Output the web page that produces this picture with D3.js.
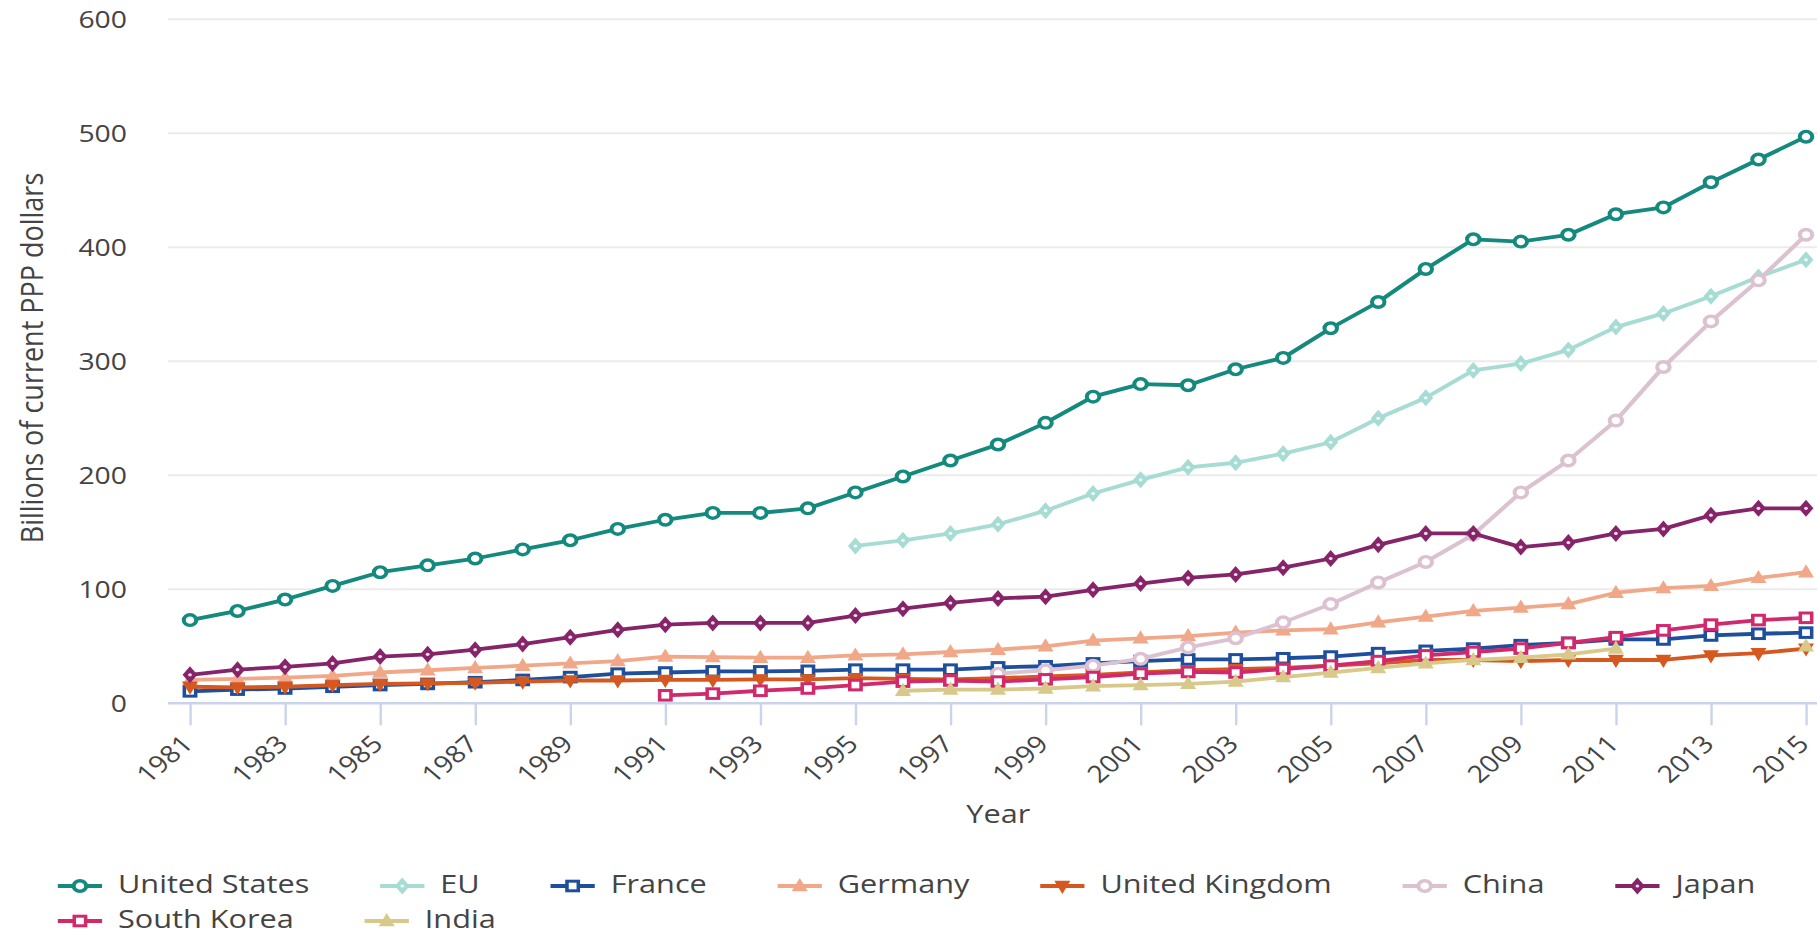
<!DOCTYPE html>
<html><head><meta charset="utf-8">
<script src="https://cdn.jsdelivr.net/npm/d3@7"></script>
<style>
body{margin:0;background:#fff;overflow:hidden}
svg{display:block}
text{font-family:"Open Sans",sans-serif;fill:#444}
</style></head>
<body><svg id="chart"></svg>
<script>
// ---------- DATA ----------
const years = [1981,1982,1983,1984,1985,1986,1987,1988,1989,1990,1991,1992,1993,1994,1995,1996,1997,1998,1999,2000,2001,2002,2003,2004,2005,2006,2007,2008,2009,2010,2011,2012,2013,2014,2015];
const yTicks = [0,100,200,300,400,500,600];
const xTickYears = [1981,1983,1985,1987,1989,1991,1993,1995,1997,1999,2001,2003,2005,2007,2009,2011,2013,2015];
const N = null;
const unitedStates = [73,81,91,103,115,121,127,135,143,153,161,167,167,171,185,199,213,227,246,269,280,279,293,303,329,352,381,407,405,411,429,435,457,477,497];
const eu =           [N,N,N,N,N,N,N,N,N,N,N,N,N,N,138,143,149,157,169,184,196,207,211,219,229,250,268,292,298,310,330,342,357,374,389];
const france =       [10.5,12,13,14.5,16,17,18.5,20.5,23,26,27,28,28,28.5,29.5,29.5,29.5,31.5,32.5,35,37,38.5,38.5,39.5,41,44,46,48,51,53,56,56,59.5,61,62];
const germany =      [20.5,21.5,22.5,24,27,29,31,33,35,37,41,40.5,40,40,42,43,45,47,50,55,57,59,62,64,65,71,76,81,84,87,97,101,103,110,115];
const unitedKingdom =[14.5,14,14.5,16,17,17.5,18,19,20,20,20.5,20.5,21,21,22,21.5,21,22,23.5,25,27,29,30,31,33,35,38,38,37,38,38,38,42,44,48];
const china =        [N,N,N,N,N,N,N,N,N,N,N,N,N,N,N,N,N,26,29,33,39,49,57,71,87,106,124,148,185,213,248,295,335,371,411];
const japan =        [25,29.5,32,35,41,43,47,52,58,64.5,69,70.5,70.5,70.5,77,83,88,92,93.5,99.5,105,110,113,119,127,139,149,149,137,141,149,153,165,171,171];
const southKorea =   [N,N,N,N,N,N,N,N,N,N,7,8.5,11,13,16,19,20,19,21,23,26,27.5,27,30,33,37,42,45,48,53,58,64,69,73,75];
const india =        [N,N,N,N,N,N,N,N,N,N,N,N,N,N,N,11,12,12,13,15,16,17,19,23,27,31,35,38,40,43,48,N,N,N,50];

const seriesNames = ["United States","EU","France","Germany","United Kingdom","China","Japan","South Korea","India"];
const seriesValues = [unitedStates,eu,france,germany,unitedKingdom,china,japan,southKorea,india];
const seriesColors = ["#138a7d","#a6dcd3","#1d4f9c","#f1a888","#d4581f","#dcc1d1","#86246a","#d02a6d","#d8c98a"];
const seriesMarkers = ["circleOpen","diamondDot","squareOpen","triUp","triDown","circleOpen","diamondDot","squareOpen","triUp"];

// ---------- LAYOUT ----------
const W = 1817, H = 936, SX = 1.18;           // picture is stretched horizontally
const LW = W / SX;
const svg = d3.select("#chart").attr("width", W).attr("height", H)
  .attr("viewBox", `0 0 ${LW} ${H}`).attr("preserveAspectRatio", "none");

const plotLeft = 168 / SX, plotRight = LW;
const x = d3.scaleLinear().domain([1981, 2015]).range([190 / SX, 1806 / SX]);
const y = d3.scaleLinear().domain([0, 600]).range([703.3, 19.3]);

// gridlines
svg.append("g").selectAll("line").data(yTicks.filter(t => t > 0)).join("line")
  .attr("x1", plotLeft).attr("x2", plotRight)
  .attr("y1", d => y(d)).attr("y2", d => y(d))
  .attr("stroke", "#ebebeb").attr("stroke-width", 2);

// y axis labels via d3 axis
const yAxis = d3.axisLeft(y).tickValues(yTicks).tickSize(0).tickPadding(0);
const yg = svg.append("g").attr("transform", `translate(${127 / SX},0)`).call(yAxis);
yg.select(".domain").remove();
yg.selectAll("text").attr("font-size", 24).attr("fill", "#444")
  .style("font-family", '"Open Sans",sans-serif').attr("dy", "0.36em").attr("x", 0);

// x axis ticks + labels
const xAxis = d3.axisBottom(x).tickValues(xTickYears).tickSize(22).tickFormat(d3.format("d"));
const xg = svg.append("g").attr("transform", `translate(0,${y(0)})`).call(xAxis);
xg.select(".domain").remove();
xg.selectAll(".tick line").attr("stroke", "#c9d3ea").attr("stroke-width", 2);
xg.selectAll(".tick text")
  .attr("font-size", 24).attr("fill", "#444").style("font-family", '"Open Sans",sans-serif')
  .attr("text-anchor", "end").attr("y", 0).attr("dy", "0.72em")
  .attr("transform", "translate(-9,30) rotate(-45)");

// zero line
svg.append("line").attr("x1", plotLeft).attr("x2", plotRight)
  .attr("y1", y(0)).attr("y2", y(0)).attr("stroke", "#c9d3ea").attr("stroke-width", 2.5);

// axis titles
svg.append("text").attr("x", 846).attr("y", 823).attr("text-anchor", "middle")
  .attr("font-size", 26).text("Year");
svg.append("text").attr("transform", `translate(${26},${358}) rotate(-90)`)
  .attr("text-anchor", "middle").attr("dominant-baseline", "central")
  .attr("font-size", 27).text("Billions of current PPP dollars");

// ---------- MARKERS ----------
function drawMarker(sel, type, color) {
  if (type === "circleOpen") {
    sel.append("circle").attr("r", 5.3).attr("fill", "#fff").attr("stroke", color).attr("stroke-width", 3.4);
  } else if (type === "squareOpen") {
    sel.append("rect").attr("x", -4.8).attr("y", -4.8).attr("width", 9.6).attr("height", 9.6)
      .attr("fill", "#fff").attr("stroke", color).attr("stroke-width", 3);
  } else if (type === "diamondDot") {
    sel.append("path").attr("d", "M0,-8.5L6.3,0L0,8.5L-6.3,0Z").attr("fill", color);
    sel.append("circle").attr("r", 1.6).attr("fill", "#fff").attr("opacity", 0.85);
  } else if (type === "triUp") {
    sel.append("path").attr("d", "M0,-8L6.8,5.2L-6.8,5.2Z").attr("fill", color);
  } else if (type === "triDown") {
    sel.append("path").attr("d", "M0,8L6.8,-5.2L-6.8,-5.2Z").attr("fill", color);
  }
}

// ---------- LINES ----------
const line = d3.line().defined(d => d.v != null).x(d => x(d.year)).y(d => y(d.v));
seriesNames.forEach((name, i) => {
  const pts = years.map((yr, j) => ({year: yr, v: seriesValues[i][j]}));
  const sg = svg.append("g").attr("class", "series");
  sg.append("path").datum(pts).attr("d", line).attr("fill", "none")
    .attr("stroke", seriesColors[i]).attr("stroke-width", 3.8).attr("stroke-linejoin", "round");
  sg.selectAll("g.m").data(pts.filter(d => d.v != null)).join("g").attr("class", "m")
    .attr("transform", d => `translate(${x(d.year)},${y(d.v)})`)
    .each(function () { drawMarker(d3.select(this), seriesMarkers[i], seriesColors[i]); });
});

// ---------- LEGEND ----------
const legend = svg.append("g");
const rowLine = [886, 921], rowText = [893, 928];
let lx = 49, row = 0;
const symW = 37.5, textOff = 51, gap = 60;
seriesNames.forEach((name, i) => {
  const it = legend.append("g");
  const t = it.append("text").attr("font-size", 26).text(name);
  const tw = t.node().getComputedTextLength();
  if (lx + textOff + tw > LW) { row += 1; lx = 49; }
  const cy = rowLine[row];
  it.append("line").attr("x1", lx).attr("x2", lx + symW).attr("y1", cy).attr("y2", cy)
    .attr("stroke", seriesColors[i]).attr("stroke-width", 3.8);
  const mk = it.append("g").attr("transform", `translate(${lx + symW / 2},${cy})`);
  drawMarker(mk, seriesMarkers[i], seriesColors[i]);
  t.attr("x", lx + textOff).attr("y", rowText[row]);
  lx += textOff + tw + gap;
});
</script></body></html>
